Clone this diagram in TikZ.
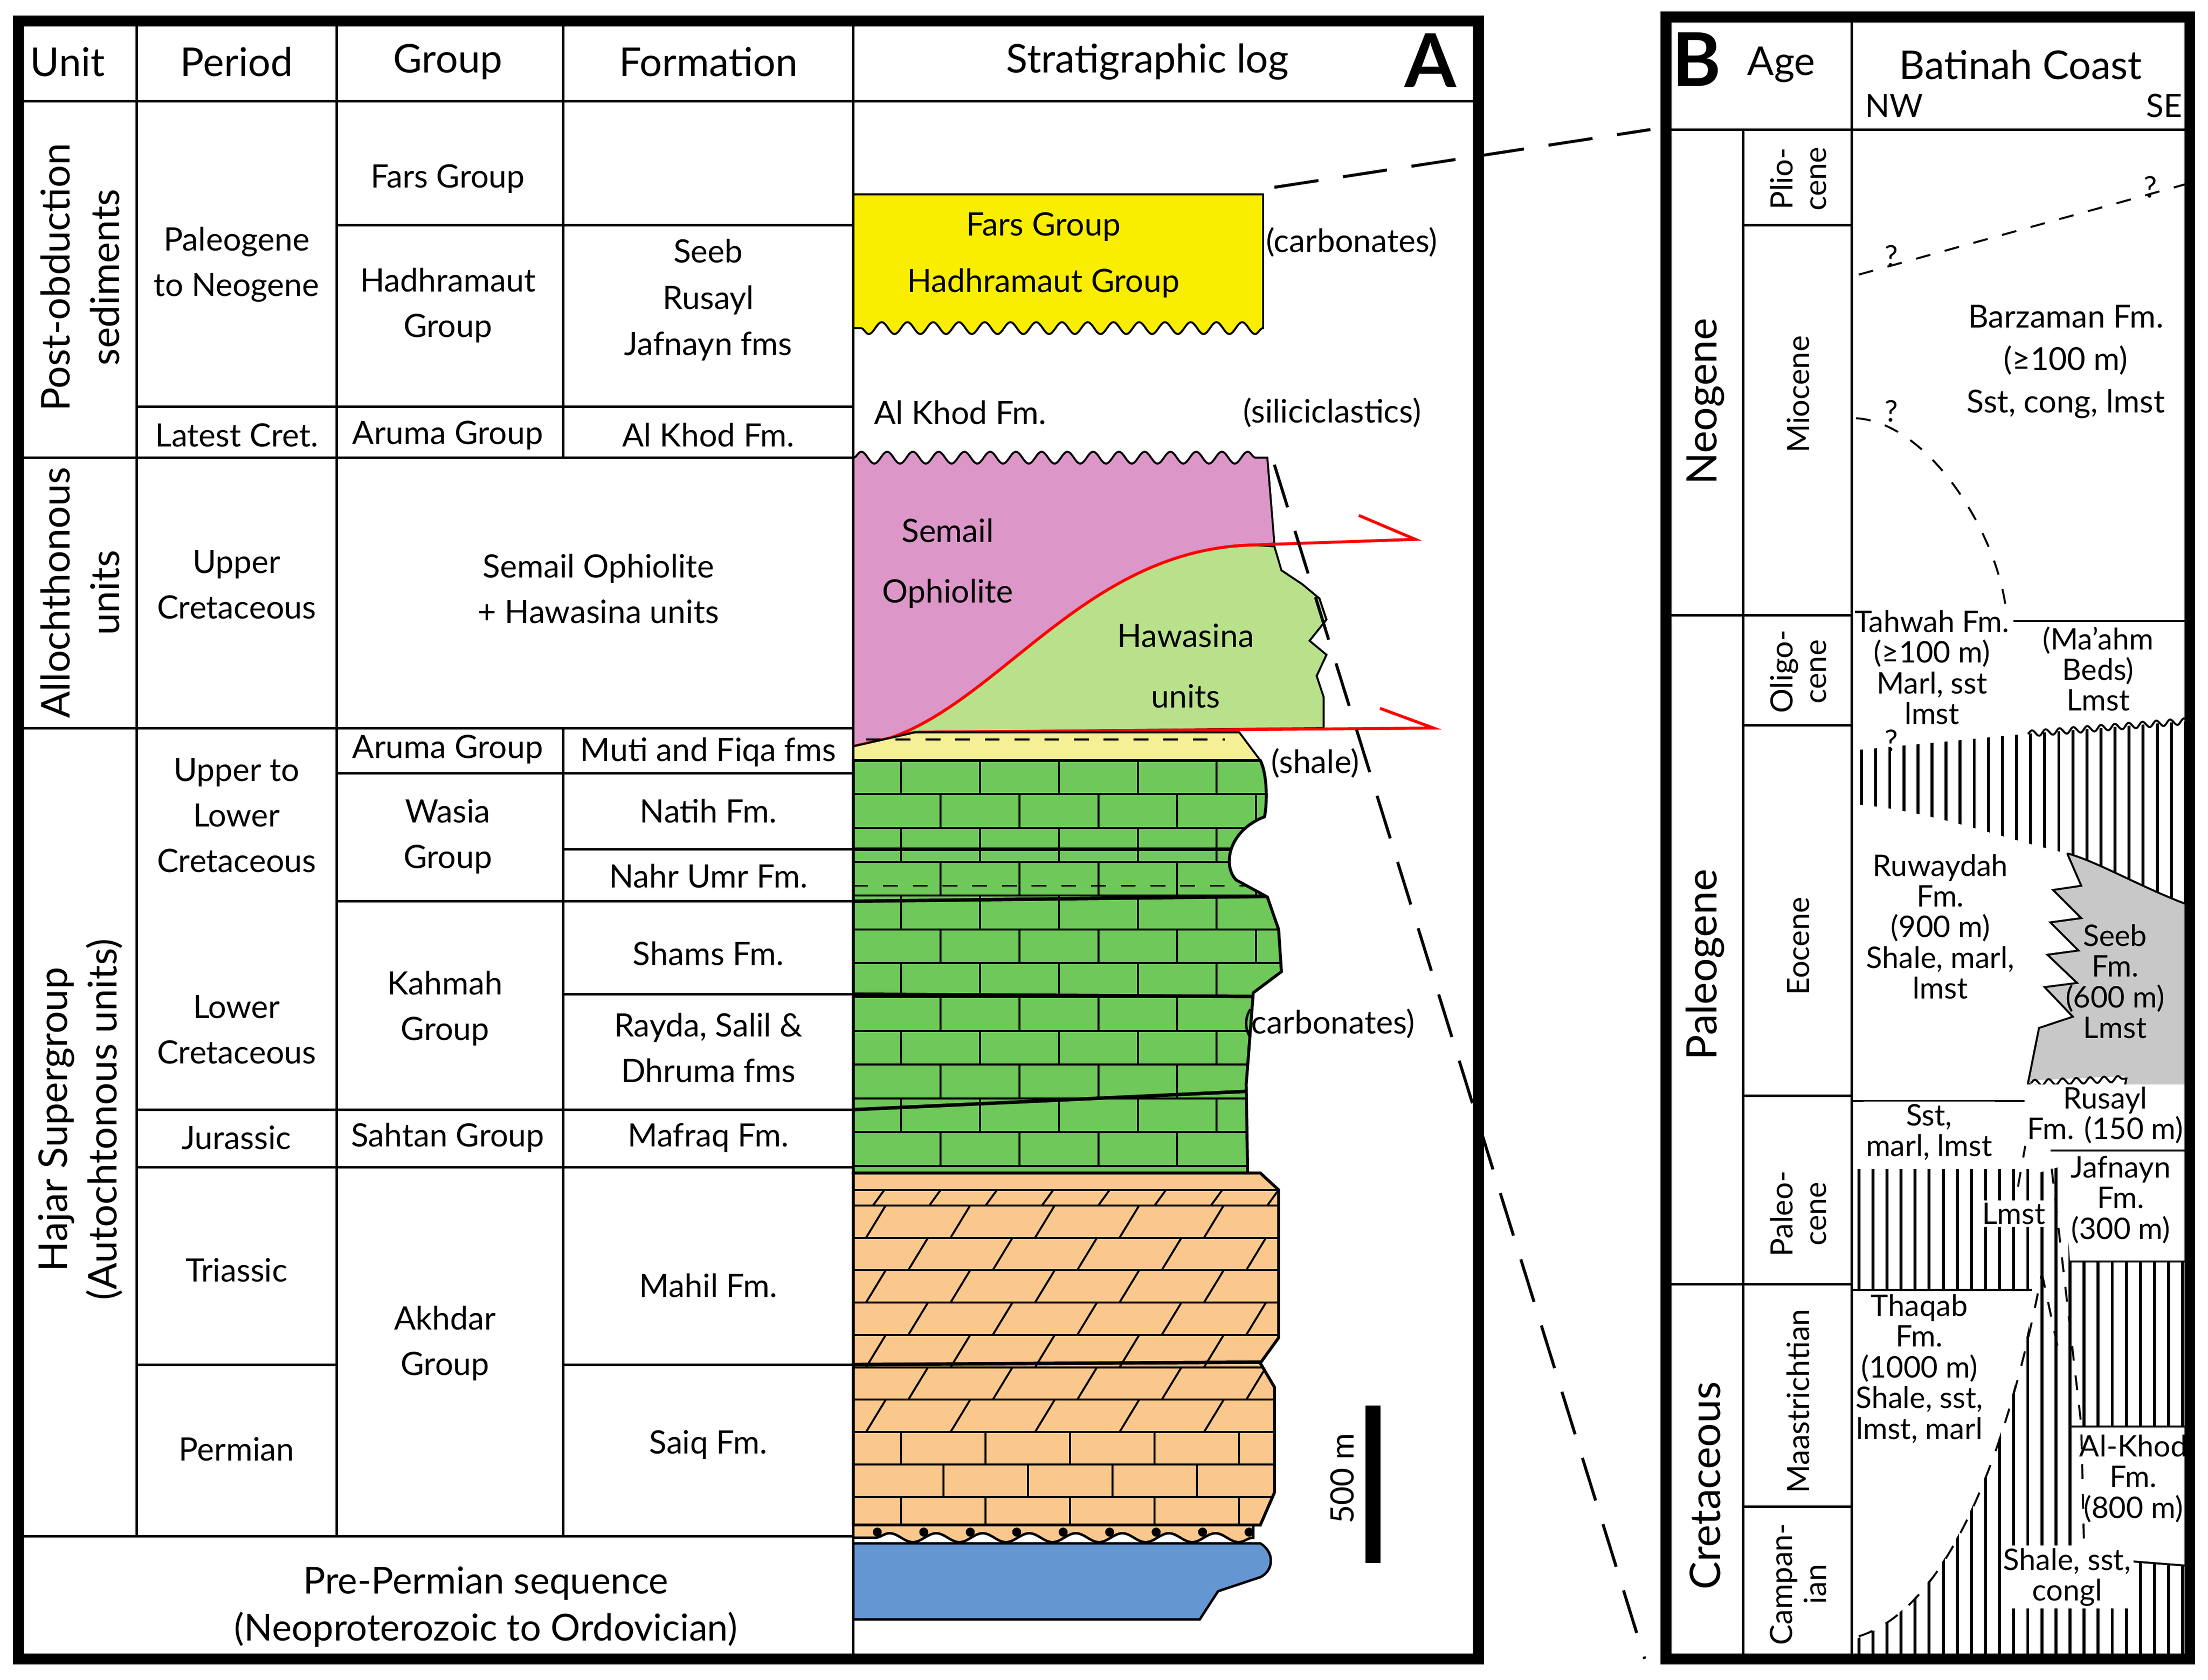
\documentclass[tikz,border=0pt]{standalone}
\usepackage{fontspec}
\setmainfont{Lato}
\usetikzlibrary{decorations.pathmorphing}
\definecolor{yel}{RGB}{250,238,0}
\definecolor{pink}{RGB}{220,150,200}
\definecolor{lgreen}{RGB}{185,225,140}
\definecolor{cgreen}{RGB}{110,200,90}
\definecolor{orng}{RGB}{250,200,140}
\definecolor{lyel}{RGB}{245,240,150}
\definecolor{blu}{RGB}{100,150,210}
\definecolor{gry}{RGB}{200,200,200}
\tikzset{
 txt/.style={font=\fontsize{6.5}{9.2}\selectfont, align=center, inner sep=0},
 hdr/.style={font=\fontsize{8}{9}\selectfont, inner sep=0},
 btxt/.style={font=\fontsize{6}{6.2}\selectfont, align=center, inner sep=0.5pt},
 grid/.style={line width=0.5pt},
 snk/.style={decoration={snake,segment length=5.2pt,amplitude=1.2pt}},
 ssnk/.style={decoration={snake,segment length=2.8pt,amplitude=0.6pt}},
}
\begin{document}
\begin{tikzpicture}[x=0.01cm,y=-0.01cm]
\useasboundingbox (0,0) rectangle (1568,1193);
% ===== Panel A log =====
\fill[yel,draw=black,snk] (606,138) -- (897,138) -- (897,233) decorate{-- (606,233)} -- cycle;
% Hawasina
\fill[lgreen,draw=black] (606,530) .. controls (700,520) and (760,390) .. (890,387) -- (905,388) -- (910,405) -- (925,415) -- (937,425) -- (942,440) -- (930,455) -- (942,465) -- (935,480) -- (940,495) -- (940,517) -- (650,520) -- cycle;
% Semail
\fill[pink,draw=black,snk] (606,530) -- (606,325) decorate{-- (900,325)} -- (905,386) -- (890,387) .. controls (760,390) and (700,520) .. (606,530);
\draw[red,line width=0.6pt] (606,530) .. controls (700,520) and (760,390) .. (890,387) -- (1005,383) -- (965,366);
\draw[red,line width=0.6pt] (606,530) -- (650,520) -- (1018,517) -- (980,503);
% shale
\fill[lyel,draw=black] (606,530) -- (650,520) -- (880,520) -- (895,540) -- (606,540) -- cycle;
\draw[dashed,line width=0.4pt] (615,525) -- (870,525);
% carbonates
\def\gpath{(606,540) -- (895,540) .. controls (900,550) and (900,570) .. (898,580) .. controls (872,590) and (868,615) .. (878,625) -- (900,637) -- (908,660) -- (910,690) -- (890,705) -- (885,770) -- (886,833) -- (606,833) -- cycle}
\fill[cgreen] \gpath;
\begin{scope}
\clip \gpath;
\foreach \y in {564,588,...,833} \draw[line width=0.4pt] (606,\y) -- (950,\y);
\foreach \y in {540,588,...,820} {\foreach \x in {640,696,...,950} \draw[line width=0.4pt] (\x,\y) -- (\x,\y+24);}
\foreach \y in {564,612,...,820} {\foreach \x in {668,724,...,950} \draw[line width=0.4pt] (\x,\y) -- (\x,\y+24);}
\draw[line width=0.7pt] (606,603) -- (950,603);
\draw[line width=0.7pt] (606,640) -- (950,636);
\draw[dashed,line width=0.4pt] (606,629) -- (950,629);
\draw[line width=0.7pt] (606,706) -- (950,708);
\draw[line width=0.7pt] (606,788) -- (950,772);
\end{scope}
\draw[line width=0.6pt] \gpath;
% orange
\def\opath{(606,833) -- (895,833) -- (908,845) -- (908,950) -- (895,968) -- (905,985) -- (905,1060) -- (895,1083) -- (606,1083) -- cycle}
\fill[orng] \opath;
\begin{scope}
\clip \opath;
\foreach \y in {856,879,...,1083} \draw[line width=0.4pt] (606,\y) -- (950,\y);
\draw[line width=0.4pt] (606,845) -- (950,845);
\foreach \x in {620,660,...,940} \draw[line width=0.4pt] (\x,856) -- (\x+8,845);
\foreach \y in {856,902,948,994} {\foreach \x in {615,675,...,940} \draw[line width=0.4pt] (\x,\y+23) -- (\x+14,\y);}
\foreach \y in {879,925,971} {\foreach \x in {645,705,...,940} \draw[line width=0.4pt] (\x,\y+23) -- (\x+14,\y);}
\foreach \y in {1017,1063} {\foreach \x in {640,700,...,940} \draw[line width=0.4pt] (\x,\y) -- (\x,\y+23);}
\foreach \y in {1040} {\foreach \x in {670,730,...,940} \draw[line width=0.4pt] (\x,\y) -- (\x,\y+23);}
\draw[line width=0.7pt] (606,969) -- (950,967);
\end{scope}
\draw[line width=0.6pt] \opath;
% conglomerate
\fill[orng,draw=black,line width=0.5pt,decoration={snake,segment length=9.4pt,amplitude=0.9pt}] (606,1083) -- (890,1083) -- (890,1092) decorate{-- (606,1092)} -- cycle;
\foreach \x in {623,656,...,890} \fill (\x,1088) circle (3.2);
% blue
\fill[blu,draw=black,line width=0.5pt] (606,1096) -- (895,1096) .. controls (905,1102) and (905,1115) .. (895,1120) -- (865,1130) -- (852,1150) -- (606,1150) -- cycle;
% scale bar
\draw[line width=3pt] (975,998) -- (975,1110);
\node[txt,rotate=90] (scl) at (953,1050) {500 m};
% log labels
\node[txt] (l1) at (741,161) {Fars Group};
\node[txt] (l2) at (741,201) {Hadhramaut Group};
\node[txt] (l3) at (960,172) {(carbonates)};
\node[txt] (l4) at (682,293) {Al Khod Fm.};
\node[txt] (l5) at (946,293) {(siliciclastics)};
\node[txt] (l6) at (673,400) {Semail\\[3pt]Ophiolite};
\node[txt] (l7) at (842,473) {Hawasina\\[3pt]units};
\node[txt] (l8) at (934,542) {(shale)};
\node[txt] (l9) at (944,727) {(carbonates)};
% dashed connectors
\coordinate (c1) at (905,133); \coordinate (c2) at (1172,92);
\coordinate (c3) at (905,330); \coordinate (c4) at (1168,1178);
\draw[dash pattern=on 9pt off 5pt,line width=0.6pt] (c1) -- (c2);
\draw[dash pattern=on 9pt off 5pt,line width=0.6pt] (c3) -- (c4);
% ===== Panel A table =====
\draw[grid] (13,72) -- (1050,72);
\draw[grid] (97,15) -- (97,1091);
\draw[grid] (239,15) -- (239,1091);
\draw[grid] (400,15) -- (400,325) (400,517) -- (400,1091);
\draw[grid] (606,15) -- (606,1178);
\draw[grid] (13,325) -- (606,325);
\draw[grid] (13,517) -- (606,517);
\draw[grid] (13,1091) -- (606,1091);
\draw[grid] (97,289) -- (606,289);
\draw[grid] (239,160) -- (606,160);
\draw[grid] (239,549) -- (606,549);
\draw[grid] (400,603) -- (606,603);
\draw[grid] (239,640) -- (606,640);
\draw[grid] (400,706) -- (606,706);
\draw[grid] (97,788) -- (606,788);
\draw[grid] (97,829) -- (606,829);
\draw[grid] (97,969) -- (239,969) (400,969) -- (606,969);
\draw[line width=2.2pt] (13,15) rectangle (1050,1178);
\node[hdr] (h1) at (48,44) {Unit};
\node[hdr] (h2) at (168,44) {Period};
\node[hdr] (h3) at (318,44) {Group};
\node[hdr] (h4) at (503,44) {Formation};
\node[hdr] (h5) at (815,44) {Stratigraphic log};
\node[font=\fontsize{15}{15}\selectfont\bfseries,inner sep=0] (hA) at (1016,43) {A};
\node[txt,rotate=90,font=\fontsize{8}{10}\selectfont] (u1) at (57,197) {Post-obduction\\sediments};
\node[txt,rotate=90,font=\fontsize{8}{10}\selectfont] (u2) at (57,421) {Allochthonous\\units};
\node[txt,rotate=90,font=\fontsize{8}{10}\selectfont] (u3) at (57,795) {Hajar Supergroup\\(Autochtonous units)};
\node[txt,font=\fontsize{7.5}{9.5}\selectfont] (u4) at (345,1141) {Pre-Permian sequence\\(Neoproterozoic to Ordovician)};
\node[txt] (p1) at (168,188) {Paleogene\\to Neogene};
\node[txt] (p2) at (168,309) {Latest Cret.};
\node[txt] (p3) at (168,415) {Upper\\Cretaceous};
\node[txt] (p4) at (168,579) {Upper to\\Lower\\Cretaceous};
\node[txt] (p5) at (168,731) {Lower\\Cretaceous};
\node[txt] (p6) at (168,808) {Jurassic};
\node[txt] (p7) at (168,902) {Triassic};
\node[txt] (p8) at (168,1029) {Permian};
\node[txt] (g1) at (318,127) {Fars Group};
\node[txt] (g2) at (318,217) {Hadhramaut\\Group};
\node[txt] (g3) at (318,309) {Aruma Group};
\node[txt] (g4) at (425,418) {Semail Ophiolite\\+ Hawasina units};
\node[txt] (g5) at (318,532) {Aruma Group};
\node[txt] (g6) at (318,594) {Wasia\\Group};
\node[txt] (g7) at (316,716) {Kahmah\\Group};
\node[txt] (g8) at (318,808) {Sahtan Group};
\node[txt] (g9) at (316,954) {Akhdar\\Group};
\node[txt,font=\fontsize{6.5}{9.3}\selectfont] (f1) at (503,213) {Seeb\\Rusayl\\Jafnayn fms};
\node[txt] (f2) at (503,309) {Al Khod Fm.};
\node[txt] (f3) at (503,534) {Muti and Fiqa fms};
\node[txt] (f4) at (503,576) {Natih Fm.};
\node[txt] (f5) at (503,622) {Nahr Umr Fm.};
\node[txt] (f6) at (503,677) {Shams Fm.};
\node[txt] (f7) at (503,744) {Rayda, Salil \&\\Dhruma fms};
\node[txt] (f8) at (503,808) {Mafraq Fm.};
\node[txt] (f9) at (503,913) {Mahil Fm.};
\node[txt] (f10) at (503,1026) {Saiq Fm.};
% ===== Panel B =====
\begin{scope}
\clip (1315,533) -- (1440,521) -- (1555,512) -- (1555,643) .. controls (1520,630) and (1490,612) .. (1468,606) .. controls (1420,595) and (1370,575) .. (1315,571) -- cycle;
\foreach \x in {1322,1332,...,1555} \draw[line width=0.6pt] (\x,500) -- (\x,650);
\end{scope}
\draw[line width=0.4pt,ssnk] (1440,521) decorate{-- (1555,512)};
\fill[gry,draw=black,line width=0.4pt] (1468,606) -- (1478,629) -- (1458,632) -- (1478,652) -- (1456,655) -- (1476,675) -- (1454,678) -- (1475,698) -- (1452,701) -- (1472,722) -- (1448,730) -- (1440,770) -- (1510,766) -- (1505,790) -- (1555,795) -- (1555,643) .. controls (1520,630) and (1490,612) .. (1468,606);
\draw[white,line width=1pt] (1442,769) -- (1509,766);
\draw[line width=0.4pt,ssnk] (1442,769) decorate{-- (1510,766)};
\draw[line width=0.4pt,ssnk] (1510,792) decorate{-- (1555,795)};
\begin{scope}
\clip (1315,1178) -- (1315,1165) .. controls (1390,1140) and (1430,1010) .. (1448,904) -- (1440,835) -- (1465,828) -- (1470,896) -- (1555,896) -- (1555,1178) -- cycle;
\foreach \x in {1320,1330,...,1555} \draw[line width=0.6pt] (\x,820) -- (\x,1180);
\end{scope}
\begin{scope}
\clip (1315,830) rectangle (1443,916);
\foreach \x in {1320,1330,...,1440} \draw[line width=0.6pt] (\x,830) -- (\x,916);
\end{scope}
\fill[white] (1471,1013) -- (1555,1013) -- (1555,1112) -- (1478,1106) -- cycle;
\draw[line width=0.4pt] (1471,1013) -- (1555,1013);
\draw[line width=0.4pt] (1478,1106) -- (1555,1112);
\draw[line width=0.4pt] (1315,782) -- (1438,782);
\draw[line width=0.4pt] (1315,916) -- (1443,916);
\draw[line width=0.4pt] (1456,817) -- (1555,817);
\draw[line width=0.4pt] (1470,896) -- (1555,896);
\draw[line width=0.4pt] (1430,441) -- (1555,441);
\draw[dashed,line width=0.4pt] (1320,1162) .. controls (1390,1140) and (1430,1010) .. (1450,904);
\draw[dashed,line width=0.4pt] (1446,770) -- (1430,860);
\draw[dashed,line width=0.4pt] (1457,830) -- (1478,1012) -- (1480,1100);
\draw[dashed,line width=0.4pt] (1450,904) -- (1462,960);
\draw[dashed,line width=0.4pt] (1320,195) -- (1555,130);
\draw[dashed,line width=0.4pt] (1318,297) .. controls (1370,300) and (1420,380) .. (1425,437);
\node[btxt] (q1) at (1343,182) {?};
\node[btxt] (q2) at (1527,133) {?};
\node[btxt] (q3) at (1343,292) {?};
\node[btxt] (q4) at (1343,526) {?};
\node[btxt,font=\fontsize{6.4}{8.6}\selectfont] (b1) at (1467,257) {Barzaman Fm.\\(≥100 m)\\Sst, cong, lmst};
\node[btxt] (b2) at (1372,474) {Tahwah Fm.\\(≥100 m)\\Marl, sst\\lmst};
\node[btxt] (b3) at (1490,475) {(Ma’ahm\\Beds)\\Lmst};
\node[btxt] (b4) at (1378,658) {Ruwaydah\\Fm.\\(900 m)\\Shale, marl,\\lmst};
\node[btxt] (b5) at (1502,697) {Seeb\\Fm.\\(600 m)\\Lmst};
\node[btxt,fill=white] (b6) at (1495,792) {Rusayl\\Fm. (150 m)};
\node[btxt,fill=white] (b7) at (1370,804) {Sst,\\marl, lmst};
\node[btxt,fill=white] (b8) at (1430,862) {Lmst};
\node[btxt] (b9) at (1506,852) {Jafnayn\\Fm.\\(300 m)};
\node[btxt,fill=white] (b10) at (1363,972) {Thaqab\\Fm.\\(1000 m)\\Shale, sst,\\lmst, marl};
\node[btxt] (b11) at (1515,1050) {Al-Khod\\Fm.\\(800 m)};
\node[btxt,fill=white] (b12) at (1468,1120) {Shale, sst,\\congl};
\draw[grid] (1183,92) -- (1555,92);
\draw[grid] (1238,92) -- (1238,1178);
\draw[grid] (1315,12) -- (1315,1178);
\draw[grid] (1183,437) -- (1315,437);
\draw[grid] (1183,912) -- (1315,912);
\draw[grid] (1238,160) -- (1315,160);
\draw[grid] (1238,515) -- (1315,515);
\draw[grid] (1238,778) -- (1315,778);
\draw[grid] (1238,1070) -- (1315,1070);
\draw[line width=2.2pt] (1183,12) rectangle (1555,1178);
\node[font=\fontsize{15}{15}\selectfont\bfseries,inner sep=0] (hB) at (1205,42) {B};
\node[hdr] (hAge) at (1265,46) {Age};
\node[hdr] (hBat) at (1435,46) {Batinah Coast};
\node[btxt,font=\fontsize{6.5}{7}\selectfont] (nw) at (1345,75) {NW};
\node[btxt,font=\fontsize{6.5}{7}\selectfont] (se) at (1537,75) {SE};
\node[txt,rotate=90,font=\fontsize{8.5}{9}\selectfont] (e1) at (1211,285) {Neogene};
\node[txt,rotate=90,font=\fontsize{8.5}{9}\selectfont] (e2) at (1211,685) {Paleogene};
\node[txt,rotate=90,font=\fontsize{8.5}{9}\selectfont] (e3) at (1211,1055) {Cretaceous};
\node[btxt,rotate=90,font=\fontsize{6.2}{6.8}\selectfont] (ep1) at (1277,127) {Plio-\\cene};
\node[btxt,rotate=90,font=\fontsize{6.2}{6.8}\selectfont] (ep2) at (1277,280) {Miocene};
\node[btxt,rotate=90,font=\fontsize{6.2}{6.8}\selectfont] (ep3) at (1277,477) {Oligo-\\cene};
\node[btxt,rotate=90,font=\fontsize{6.2}{6.8}\selectfont] (ep4) at (1277,672) {Eocene};
\node[btxt,rotate=90,font=\fontsize{6.2}{6.8}\selectfont] (ep5) at (1277,862) {Paleo-\\cene};
\node[btxt,rotate=90,font=\fontsize{6.2}{6.8}\selectfont] (ep6) at (1277,995) {Maastrichtian};
\node[btxt,rotate=90,font=\fontsize{6.2}{6.8}\selectfont] (ep7) at (1277,1125) {Campan-\\ian};
\end{tikzpicture}
\end{document}
